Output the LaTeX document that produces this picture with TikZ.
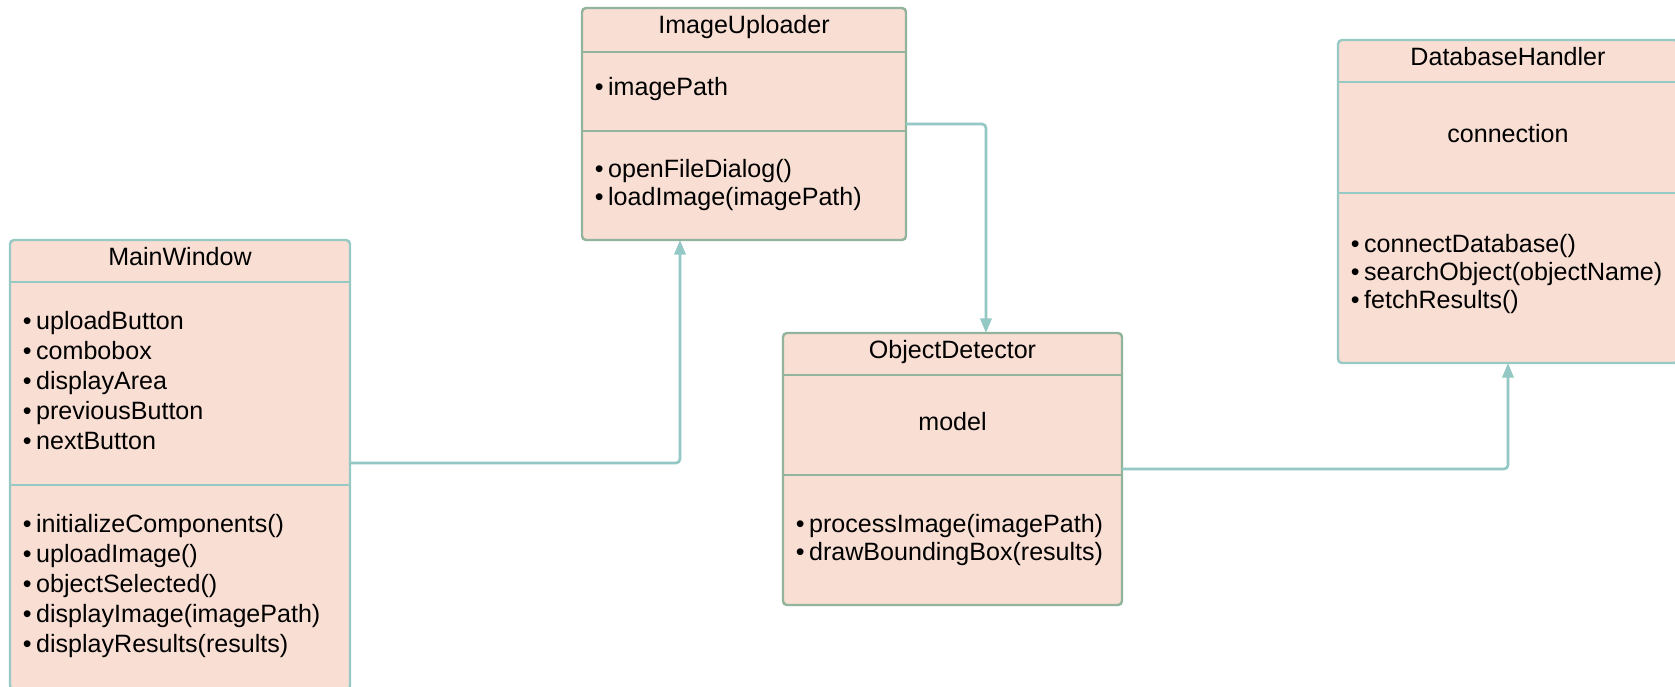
\documentclass[tikz,border=0pt]{standalone}
\usepackage{fontspec}
\setmainfont{Liberation Sans}
\usetikzlibrary{arrows.meta}
\definecolor{boxfill}{HTML}{F9DED3}
\definecolor{tealline}{HTML}{97C9C5}
\definecolor{sageline}{HTML}{92B39C}
\definecolor{linkline}{HTML}{93C8C4}
\newcommand{\umlfont}{\fontsize{18.8pt}{22pt}\selectfont}
\begin{document}
\begin{tikzpicture}[x=0.75pt,y=-0.75pt,
  classbox/.style={draw=tealline, line width=1.8pt, fill=boxfill,
    rounded corners=3pt, inner sep=0pt, outer sep=0pt},
  sage/.style={draw=sageline},
  sep/.style={line width=1.5pt},
  title/.style={anchor=base, inner sep=0pt, font=\umlfont},
  item/.style={anchor=base west, inner sep=0pt, font=\umlfont},
  link/.style={draw=linkline, line width=2pt, rounded corners=3pt,
    -{Triangle[length=11pt,width=8.5pt]}}]
\useasboundingbox (0,0) rectangle (1675,686);
\clip (0,0) rectangle (1675,686);
\fill[white] (0,0) rectangle (1675,686);

% MainWindow (runs past the lower edge)
\node[classbox, minimum width=255pt, minimum height=337.5pt] (mw) at (180,465) {};
\draw[sep, tealline] (mw.west |- 0,282) -- (mw.east |- 0,282);
\draw[sep, tealline] (mw.west |- 0,485) -- (mw.east |- 0,485);
\node[title] (mwtitle) at (180,265) {MainWindow};
\foreach \t [count=\i from 0] in {uploadButton,combobox,displayArea,previousButton,nextButton}
  \node[item] (mwattr\i) at (22.6,{329+30*\i}) {\textbullet\hspace{3.4pt}\t};
\foreach \t [count=\i from 0] in {initializeComponents(),uploadImage(),objectSelected(),displayImage(imagePath),displayResults(results)}
  \node[item] (mwop\i) at (22.6,{532+30*\i}) {\textbullet\hspace{3.4pt}\t};

% ImageUploader
\node[classbox, sage, minimum width=243pt, minimum height=174pt] (iu) at (744,124) {};
\draw[sep, sageline] (iu.west |- 0,52) -- (iu.east |- 0,52);
\draw[sep, sageline] (iu.west |- 0,131) -- (iu.east |- 0,131);
\node[title] (iutitle) at (744,33) {ImageUploader};
\node[item] (iuattr0) at (594.6,95) {\textbullet\hspace{3.4pt}imagePath};
\node[item] (iuop0) at (594.6,177) {\textbullet\hspace{3.4pt}openFileDialog()};
\node[item] (iuop1) at (594.6,205) {\textbullet\hspace{3.4pt}loadImage(imagePath)};

% ObjectDetector
\node[classbox, sage, minimum width=254.25pt, minimum height=204pt] (od) at (952.5,469) {};
\draw[sep, sageline] (od.west |- 0,375) -- (od.east |- 0,375);
\draw[sep, sageline] (od.west |- 0,475) -- (od.east |- 0,475);
\node[title] (odtitle) at (952.5,358) {ObjectDetector};
\node[title] (odattr0) at (952.5,430) {model};
\node[item] (odop0) at (795.6,532) {\textbullet\hspace{3.4pt}processImage(imagePath)};
\node[item] (odop1) at (795.6,560) {\textbullet\hspace{3.4pt}drawBoundingBox(results)};

% DatabaseHandler
\node[classbox, minimum width=255pt, minimum height=242.25pt] (dh) at (1508,201.5) {};
\draw[sep, tealline] (dh.west |- 0,82) -- (dh.east |- 0,82);
\draw[sep, tealline] (dh.west |- 0,193) -- (dh.east |- 0,193);
\node[title] (dhtitle) at (1508,65) {DatabaseHandler};
\node[title] (dhattr0) at (1508,142) {connection};
\node[item] (dhop0) at (1350.6,252) {\textbullet\hspace{3.4pt}connectDatabase()};
\node[item] (dhop1) at (1350.6,280) {\textbullet\hspace{3.4pt}searchObject(objectName)};
\node[item] (dhop2) at (1350.6,308) {\textbullet\hspace{3.4pt}fetchResults()};

% associations
\draw[link] ([yshift=1.5pt]mw.east) -| ([xshift=-48pt]iu.south);
\draw[link] (iu.east) -| ([xshift=25.1pt]od.north);
\draw[link] (od.east) -| (dh.south);
\end{tikzpicture}
\end{document}
